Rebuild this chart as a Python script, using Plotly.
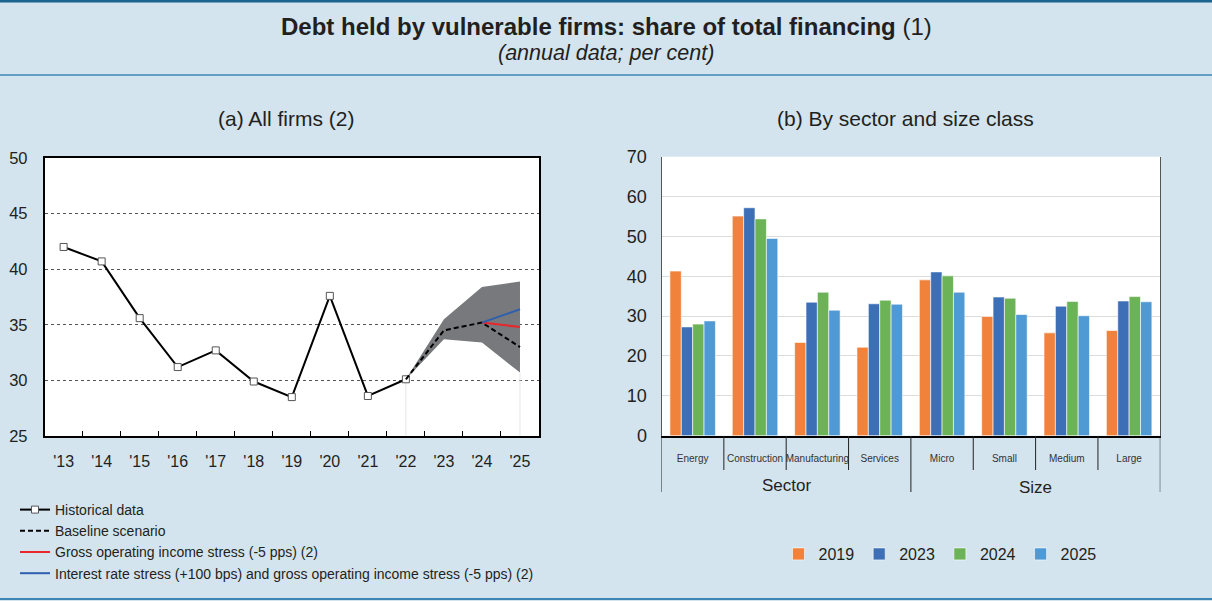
import plotly.graph_objects as go

# ---- panel (a): all firms ----
years = ["'13", "'14", "'15", "'16", "'17", "'18", "'19", "'20", "'21", "'22", "'23", "'24", "'25"]
hist_years = years[:10]
historical = [42.0, 40.7, 35.6, 31.2, 32.7, 29.9, 28.5, 37.6, 28.6, 30.1]
proj_years = ["'22", "'23", "'24", "'25"]
baseline = [30.1, 34.5, 35.2, 33.0]
band_low = [30.1, 33.7, 33.4, 30.7]
band_high = [30.1, 35.5, 38.4, 38.9]
stress_years = ["'24", "'25"]
goi_stress = [35.2, 34.8]
rate_goi_stress = [35.2, 36.4]

# ---- panel (b): by sector and size class ----
groups = ["Sector", "Size"]
classes = ["Energy", "Construction", "Manufacturing", "Services", "Micro", "Small", "Medium", "Large"]
share_2019 = [41.3, 55.1, 23.4, 22.2, 39.1, 29.9, 25.8, 26.4]
share_2023 = [27.3, 57.2, 33.5, 33.1, 41.1, 34.8, 32.5, 33.8]
share_2024 = [28.0, 54.4, 36.0, 34.0, 40.1, 34.5, 33.7, 34.9]
share_2025 = [28.8, 49.5, 31.5, 33.0, 36.0, 30.4, 30.1, 33.6]
bar_years = ["2019", "2023", "2024", "2025"]
bar_colors = ["#f0823c", "#3d6fb6", "#6cb257", "#4f99d4"]

BG = "#d3e4ee"
TXT = "#231f20"
FONT = "Liberation Sans, Arial, sans-serif"
W, H = 1212, 601


def py(px):
    """pixel row -> paper y"""
    return 1 - px / H


def px_x(px):
    return px / W


fig = go.Figure()

# band of projections
fig.add_trace(go.Scatter(x=proj_years, y=band_low, mode="lines", line=dict(width=0),
                         showlegend=False, hoverinfo="skip", xaxis="x", yaxis="y"))
fig.add_trace(go.Scatter(x=proj_years, y=band_high, mode="lines", line=dict(width=0),
                         fill="tonexty", fillcolor="#77797c", showlegend=False,
                         hoverinfo="skip", xaxis="x", yaxis="y"))
# faint drop lines at start / end of projection
for yr, val in [(proj_years[0], band_low[0]), (proj_years[-1], band_low[-1])]:
    fig.add_trace(go.Scatter(x=[yr, yr], y=[25, val], mode="lines",
                             line=dict(color="#e6e6e6", width=1), showlegend=False,
                             hoverinfo="skip", xaxis="x", yaxis="y"))

fig.add_trace(go.Scatter(x=hist_years, y=historical, mode="lines+markers", name="Historical data",
                         line=dict(color="black", width=2),
                         marker=dict(symbol="square", size=7, color="white",
                                     line=dict(color="#555", width=1)),
                         legend="legend", xaxis="x", yaxis="y"))
fig.add_trace(go.Scatter(x=proj_years, y=baseline, mode="lines", name="Baseline scenario",
                         line=dict(color="black", width=2, dash="5px,3px"),
                         legend="legend", xaxis="x", yaxis="y"))
fig.add_trace(go.Scatter(x=stress_years, y=goi_stress, mode="lines",
                         name="Gross operating income stress (-5 pps) (2)",
                         line=dict(color="#e8262b", width=2),
                         legend="legend", xaxis="x", yaxis="y"))
fig.add_trace(go.Scatter(x=stress_years, y=rate_goi_stress, mode="lines",
                         name="Interest rate stress (+100 bps) and gross operating income stress (-5 pps) (2)",
                         line=dict(color="#2e5fae", width=2),
                         legend="legend", xaxis="x", yaxis="y"))

for name, vals, col in zip(bar_years, [share_2019, share_2023, share_2024, share_2025], bar_colors):
    fig.add_trace(go.Bar(x=classes, y=vals, name=name,
                         marker=dict(color=col, line=dict(color="white", width=0.6)),
                         legend="legend2", xaxis="x2", yaxis="y2"))

left_ticks = dict(family=FONT, size=16.5, color=TXT)
right_ticks = dict(family=FONT, size=18, color=TXT)

fig.update_layout(
    template="none",
    width=W, height=H,
    margin=dict(l=0, r=0, t=0, b=0, pad=0),
    paper_bgcolor=BG, plot_bgcolor="white",
    font=dict(family=FONT, color=TXT),
    barmode="group", bargap=0.27, bargroupgap=0,
    xaxis=dict(domain=[px_x(44.6), px_x(539)], type="category", categoryorder="array",
               categoryarray=years, range=[-0.5, 12.5], ticks="inside", tickson="boundaries",
               ticklen=5, tickcolor="black", showline=True, linecolor="black", linewidth=2,
               mirror=True, showgrid=False, tickfont=dict(family=FONT, size=16, color=TXT),
               ticklabelstandoff=10, anchor="y", automargin=False),
    yaxis=dict(domain=[py(436), py(158)], range=[25, 50], dtick=5, showline=True,
               linecolor="black", linewidth=1.5, mirror=True, ticks="", tickfont=left_ticks,
               showgrid=True, gridcolor="#555", griddash="dot", gridwidth=1, zeroline=False,
               ticklabelstandoff=12, anchor="x", automargin=False),
    yaxis3=dict(overlaying="y", side="right", anchor="x", range=[25, 50], dtick=5,
                showgrid=False, ticks="", tickfont=left_ticks, ticklabelstandoff=12,
                zeroline=False, automargin=False),
    xaxis2=dict(domain=[px_x(661.5), px_x(1160.3)], type="category", categoryorder="array",
                categoryarray=classes, range=[-0.5, 7.5], ticks="", showline=True,
                linecolor="black", linewidth=2, showgrid=False, tickangle=0,
                tickfont=dict(family=FONT, size=10, color="#333"), ticklabelstandoff=12,
                anchor="y2", automargin=False),
    yaxis2=dict(domain=[py(435.7), py(156.7)], range=[0, 70], dtick=10, showline=True,
                linecolor="#555", linewidth=1, mirror=True, ticks="", tickfont=right_ticks,
                showgrid=True, gridcolor="#dcdcdc", gridwidth=1, zeroline=False,
                ticklabelstandoff=10, anchor="x2", automargin=False),
    yaxis4=dict(overlaying="y2", side="right", anchor="x2", range=[0, 70], dtick=10,
                showgrid=False, ticks="", tickfont=right_ticks, ticklabelstandoff=10,
                zeroline=False, automargin=False),
    legend=dict(x=px_x(15), y=py(494), xanchor="left", yanchor="top", bgcolor="rgba(0,0,0,0)",
                font=dict(family=FONT, size=14, color=TXT), tracegroupgap=0, itemwidth=30,
                traceorder="normal"),
    legend2=dict(orientation="h", x=px_x(940), y=py(554), xanchor="center", yanchor="middle",
                 bgcolor="rgba(0,0,0,0)", font=dict(family=FONT, size=16, color=TXT),
                 traceorder="normal"),
)

# header / frame lines
for yy, col, wd in [(py(1), "#1c6391", 3), (py(75), "#3d86b3", 1.5), (py(599), "#3d86b3", 2)]:
    fig.add_shape(type="line", xref="paper", yref="paper", x0=0, x1=1, y0=yy, y1=yy,
                  line=dict(color=col, width=wd))

# category dividers below panel (b)
for i in range(len(classes) + 1):
    outer = i in (0, 4, 8)
    fig.add_shape(type="line", xref="x2", yref="paper", x0=i - 0.5, x1=i - 0.5,
                  y0=py(492 if outer else 470), y1=py(436),
                  line=dict(color="#222", width=1))

titles = [
    (0.5, 27, "<b>Debt held by vulnerable firms: share of total financing</b> (1)", 24),
    (0.5, 53, "<i>(annual data; per cent)</i>", 21.5),
    (px_x(286), 118, "(a) All firms (2)", 21),
    (px_x(905), 118, "(b) By sector and size class", 21),
]
for x, y, text, size in titles:
    fig.add_annotation(xref="paper", yref="paper", x=x, y=py(y), text=text, showarrow=False,
                       xanchor="center", yanchor="middle",
                       font=dict(family=FONT, color=TXT, size=size))

fig.add_annotation(xref="x2", yref="paper", x=1.5, y=py(486), text=groups[0], showarrow=False,
                   xanchor="center", yanchor="middle", font=dict(family=FONT, color=TXT, size=17))
fig.add_annotation(xref="x2", yref="paper", x=5.5, y=py(488), text=groups[1], showarrow=False,
                   xanchor="center", yanchor="middle", font=dict(family=FONT, color=TXT, size=17))

fig.write_html("out.html", config={"displayModeBar": False},
               post_script="document.body.style.margin='0';")
